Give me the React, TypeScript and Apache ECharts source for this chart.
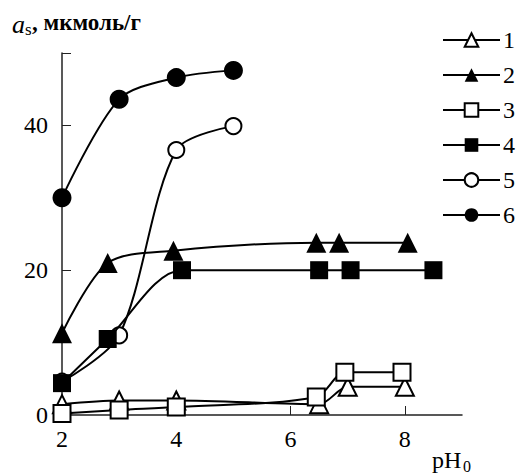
import React, { useEffect, useRef } from "react";
import * as echarts from "echarts";

const seriesNames = ["1", "2", "3", "4", "5", "6"];
const s1: [number, number][] = [[2, 1.5], [3, 2], [4, 2], [6.5, 1.5], [7, 3.9], [8, 3.9]];
const s2: [number, number][] = [[2, 11.3], [2.8, 21], [3.95, 22.7], [6.45, 23.8], [6.85, 23.8], [8.05, 23.8]];
const s3: [number, number][] = [[2, 0.2], [3, 0.7], [4, 1.1], [6.45, 2.5], [6.95, 5.9], [7.95, 5.9]];
const s4: [number, number][] = [[2, 4.4], [2.8, 10.5], [4.1, 20], [6.5, 20], [7.05, 20], [8.5, 20]];
const s5: [number, number][] = [[2, 4.6], [3, 11], [4, 36.6], [5, 39.9]];
const s6: [number, number][] = [[2, 30], [3, 43.6], [4, 46.6], [5, 47.6]];
const xTicks = [2, 4, 6, 8];
const yTicks = [0, 20, 40];

const FONT = "'Liberation Serif', 'Times New Roman', serif";

export default function App() {
  const ref = useRef<HTMLDivElement>(null);
  useEffect(() => {
    document.body.style.margin = "0";
    const chart = echarts.init(ref.current!, null, { renderer: "svg" });
    const mk = (
      name: string,
      data: [number, number][],
      symbol: string,
      size: number,
      open: boolean,
      z: number
    ) => ({
      name,
      type: "line",
      data,
      smooth: 0.3,
      symbol,
      symbolSize: size,
      showSymbol: true,
      z,
      lineStyle: { color: "#000", width: 2 },
      itemStyle: open
        ? { color: "#fff", borderColor: "#000", borderWidth: 2 }
        : { color: "#000", borderColor: "#000", borderWidth: 0 },
    });
    chart.setOption({
      animation: false,
      backgroundColor: "#fff",
      textStyle: { fontFamily: FONT },
      grid: { left: 62, right: 60, top: 53, bottom: 58 },
      xAxis: {
        type: "value",
        min: 2,
        max: 9,
        interval: 2,
        axisLine: { lineStyle: { color: "#222", width: 1.5 } },
        axisTick: { inside: true, length: 9, customValues: xTicks, lineStyle: { color: "#222" } },
        axisLabel: {
          customValues: xTicks,
          fontFamily: FONT,
          fontSize: 24,
          color: "#000",
          margin: 12,
        },
        splitLine: { show: false },
      },
      yAxis: {
        type: "value",
        min: 0,
        max: 50,
        interval: 10,
        axisLine: { show: true, lineStyle: { color: "#222", width: 1.5 } },
        axisTick: { show: true, inside: true, length: 9, customValues: [0, 20, 40, 50], lineStyle: { color: "#222" } },
        axisLabel: {
          customValues: yTicks,
          fontFamily: FONT,
          fontSize: 24,
          color: "#000",
          margin: 14,
        },
        splitLine: { show: false },
      },
      legend: {
        orient: "vertical",
        left: 437,
        top: 23,
        itemWidth: 57,
        itemHeight: 17,
        itemGap: 11,
        data: seriesNames,
        textStyle: { fontFamily: FONT, fontSize: 24, color: "#000", lineHeight: 22, padding: [0, 0, 0, -2] },
      },
      series: [
        mk("1", s1, "triangle", 18, true, 2),
        mk("2", s2, "triangle", 20, false, 2),
        mk("3", s3, "rect", 17, true, 3),
        mk("4", s4, "rect", 18, false, 4),
        mk("5", s5, "circle", 16, true, 2),
        mk("6", s6, "circle", 19, false, 2),
      ],
      graphic: [
        { type: "text", left: 12, top: 11, style: { text: "a", font: `italic 26px ${FONT}`, fill: "#000" } },
        { type: "text", left: 25, top: 21, style: { text: "s", font: `17px ${FONT}`, fill: "#000" } },
        { type: "text", left: 32, top: 11, style: { text: ", мкмоль/г", font: `bold 23px ${FONT}`, fill: "#000" } },
        { type: "text", left: 432, top: 448, style: { text: "pH", font: `24px ${FONT}`, fill: "#000" } },
        { type: "text", left: 463, top: 458, style: { text: "0", font: `16px ${FONT}`, fill: "#000" } },
      ],
    });
    return () => chart.dispose();
  }, []);
  return <div ref={ref} style={{ position: "absolute", left: 0, top: 0, width: 522, height: 473 }} />;
}
